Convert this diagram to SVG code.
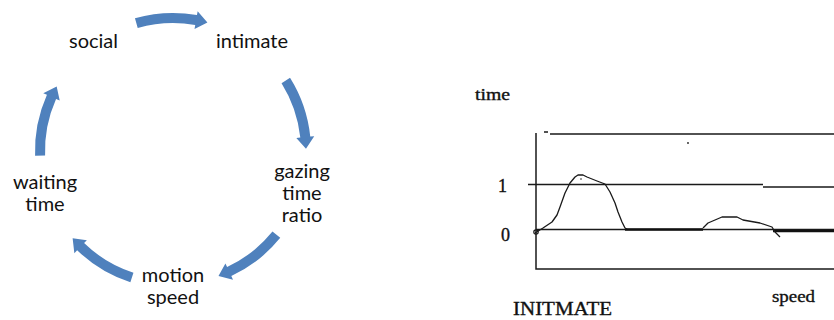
<svg xmlns="http://www.w3.org/2000/svg" xmlns:xlink="http://www.w3.org/1999/xlink" width="834" height="320" viewBox="0 0 834 320">
<style>
.lbl{font-family:Lato,"Liberation Sans",sans-serif;font-size:20px;fill:#111;text-anchor:middle}
.arr{fill:#4f81bd}
.ax{stroke:#1a1a1a;stroke-width:1.5;fill:none}
.cv{stroke:#1a1a1a;stroke-width:1.3;fill:none;stroke-linejoin:round}
.thk{stroke:#111;stroke-width:2.6;fill:none}
.ser{font-family:"Liberation Serif",serif;fill:#111;stroke:#111;stroke-width:0.35}
</style>
<defs>
<path id="arrow" class="arr" d="M134.96,18.35 A138,138 0 0 1 196.96,15.10 L197.66,11.16 L207.42,22.53 L194.53,28.88 L195.23,24.94 A128,128 0 0 0 137.72,27.96 Z"/>
</defs>
<rect width="834" height="320" fill="#fff"/>
<g id="connectors">
<use xlink:href="#arrow"/>
<use xlink:href="#arrow" transform="rotate(74 173 151)"/>
<use xlink:href="#arrow" transform="rotate(145 173 151)"/>
<use xlink:href="#arrow" transform="rotate(214 173 151)"/>
<use xlink:href="#arrow" transform="rotate(284 173 151)"/>
</g>
<g id="social"><text class="lbl" x="93.5" y="48">social</text></g>
<g id="intimate"><text class="lbl" x="252" y="48">intimate</text></g>
<g id="gazing"><text class="lbl" x="302" y="178">gazing</text><text class="lbl" x="302" y="200">time</text><text class="lbl" x="302" y="222">ratio</text></g>
<g id="motion"><text class="lbl" x="173" y="282">motion</text><text class="lbl" x="173" y="304">speed</text></g>
<g id="waiting"><text class="lbl" x="45" y="189">waiting</text><text class="lbl" x="45" y="211">time</text></g>
<g id="chart">
<text class="ser" x="475" y="100" font-size="16" textLength="35" lengthAdjust="spacingAndGlyphs">time</text>
<text class="ser" x="498" y="192" font-size="18">1</text>
<text class="ser" x="501" y="241" font-size="18">0</text>
<text class="ser" x="772" y="302" font-size="17" textLength="43" lengthAdjust="spacingAndGlyphs">speed</text>
<text class="ser" x="513" y="315" font-size="19" textLength="99" lengthAdjust="spacingAndGlyphs">INITMATE</text>
<path class="ax" d="M536,133 V269 H834"/>
<path class="ax" d="M550,134 H834 M544,132 H548"/>
<path class="ax" d="M528,184.5 H763 M763,187 H834"/>
<path class="ax" d="M536,229.5 H834" stroke-width="1.2"/>
<path class="thk" d="M625,229.5 H703 M773,231 H834"/>
<circle cx="688" cy="143" r="0.9" fill="#222"/>
<circle cx="581" cy="179" r="0.8" fill="#222"/>
<circle cx="536" cy="232" r="2.2" fill="none" stroke="#1a1a1a" stroke-width="1.2"/>
<polyline class="cv" points="535,233 543,228 552,222 557,215 560,207 565,193 570,183 575,177 578,175 583,175 587,177 597,181 605,184 610,192 615,203 618,212 622,222 625,228 627,229"/>
<polyline class="cv" points="703,228 708,223 722,217 737,217 743,220 760,223 772,227 775,232 780,237"/>
</g>
</svg>
